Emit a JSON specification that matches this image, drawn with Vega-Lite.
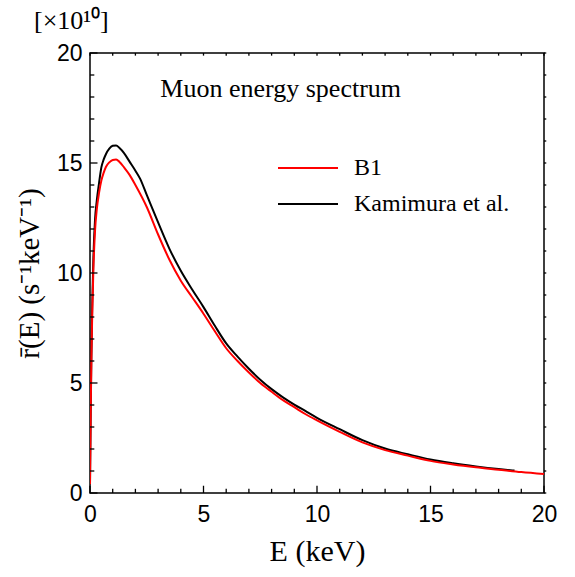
{
  "$schema": "https://vega.github.io/schema/vega-lite/v6.json",
  "autosize": {"type": "none"},
  "width": 454,
  "height": 440,
  "padding": {"left": 90, "top": 53, "right": 31, "bottom": 84},
  "background": "white",
  "title": {"text": "[×10¹⁰]", "anchor": "start", "frame": "group", "dx": -56, "offset": 8, "font": "Liberation Serif", "fontSize": 26, "fontWeight": "normal", "color": "black"},
  "config": {
    "view": {"stroke": "black", "strokeWidth": 1.5},
    "scale": {"continuousPadding": 0},
    "axis": {"domain": false, "ticks": false, "tickSize": 0, "grid": false, "labelFont": "Liberation Sans", "labelFontSize": 23, "labelColor": "black", "titleFont": "Liberation Serif", "titleFontWeight": "normal", "titleColor": "black", "titleFontSize": 30}
  },
  "datasets": {
    "curves": [
      {"E": 0.0, "r": 0.4, "s": "Kamimura et al."},
      {"E": 0.03, "r": 3.6, "s": "Kamimura et al."},
      {"E": 0.06, "r": 6.2, "s": "Kamimura et al."},
      {"E": 0.1, "r": 8.6, "s": "Kamimura et al."},
      {"E": 0.15, "r": 10.7, "s": "Kamimura et al."},
      {"E": 0.22, "r": 12.4, "s": "Kamimura et al."},
      {"E": 0.3, "r": 13.3, "s": "Kamimura et al."},
      {"E": 0.4, "r": 14.1, "s": "Kamimura et al."},
      {"E": 0.5, "r": 14.8, "s": "Kamimura et al."},
      {"E": 0.6, "r": 15.15, "s": "Kamimura et al."},
      {"E": 0.7, "r": 15.4, "s": "Kamimura et al."},
      {"E": 0.85, "r": 15.65, "s": "Kamimura et al."},
      {"E": 1.0, "r": 15.78, "s": "Kamimura et al."},
      {"E": 1.15, "r": 15.8, "s": "Kamimura et al."},
      {"E": 1.3, "r": 15.68, "s": "Kamimura et al."},
      {"E": 1.5, "r": 15.45, "s": "Kamimura et al."},
      {"E": 1.75, "r": 15.05, "s": "Kamimura et al."},
      {"E": 2.0, "r": 14.65, "s": "Kamimura et al."},
      {"E": 2.2, "r": 14.3, "s": "Kamimura et al."},
      {"E": 2.5, "r": 13.55, "s": "Kamimura et al."},
      {"E": 3.0, "r": 12.3, "s": "Kamimura et al."},
      {"E": 3.5, "r": 11.1, "s": "Kamimura et al."},
      {"E": 4.0, "r": 10.1, "s": "Kamimura et al."},
      {"E": 4.5, "r": 9.25, "s": "Kamimura et al."},
      {"E": 5.0, "r": 8.45, "s": "Kamimura et al."},
      {"E": 5.5, "r": 7.6, "s": "Kamimura et al."},
      {"E": 6.0, "r": 6.8, "s": "Kamimura et al."},
      {"E": 6.5, "r": 6.2, "s": "Kamimura et al."},
      {"E": 7.0, "r": 5.65, "s": "Kamimura et al."},
      {"E": 7.5, "r": 5.15, "s": "Kamimura et al."},
      {"E": 8.0, "r": 4.72, "s": "Kamimura et al."},
      {"E": 8.5, "r": 4.35, "s": "Kamimura et al."},
      {"E": 9.0, "r": 4.02, "s": "Kamimura et al."},
      {"E": 9.5, "r": 3.72, "s": "Kamimura et al."},
      {"E": 10.0, "r": 3.42, "s": "Kamimura et al."},
      {"E": 11.0, "r": 2.9, "s": "Kamimura et al."},
      {"E": 12.0, "r": 2.4, "s": "Kamimura et al."},
      {"E": 13.0, "r": 2.02, "s": "Kamimura et al."},
      {"E": 14.0, "r": 1.76, "s": "Kamimura et al."},
      {"E": 15.0, "r": 1.52, "s": "Kamimura et al."},
      {"E": 16.0, "r": 1.35, "s": "Kamimura et al."},
      {"E": 17.0, "r": 1.21, "s": "Kamimura et al."},
      {"E": 18.0, "r": 1.09, "s": "Kamimura et al."},
      {"E": 18.7, "r": 1.02, "s": "Kamimura et al."},
      {"E": 0.0, "r": 0.4, "s": "B1"},
      {"E": 0.03, "r": 3.5, "s": "B1"},
      {"E": 0.06, "r": 6.0, "s": "B1"},
      {"E": 0.1, "r": 8.2, "s": "B1"},
      {"E": 0.15, "r": 10.2, "s": "B1"},
      {"E": 0.22, "r": 11.9, "s": "B1"},
      {"E": 0.3, "r": 12.9, "s": "B1"},
      {"E": 0.4, "r": 13.65, "s": "B1"},
      {"E": 0.5, "r": 14.2, "s": "B1"},
      {"E": 0.6, "r": 14.55, "s": "B1"},
      {"E": 0.7, "r": 14.82, "s": "B1"},
      {"E": 0.85, "r": 15.03, "s": "B1"},
      {"E": 1.0, "r": 15.14, "s": "B1"},
      {"E": 1.15, "r": 15.16, "s": "B1"},
      {"E": 1.3, "r": 15.05, "s": "B1"},
      {"E": 1.5, "r": 14.8, "s": "B1"},
      {"E": 1.75, "r": 14.45, "s": "B1"},
      {"E": 2.0, "r": 14.0, "s": "B1"},
      {"E": 2.5, "r": 13.0, "s": "B1"},
      {"E": 3.0, "r": 11.75, "s": "B1"},
      {"E": 3.5, "r": 10.6, "s": "B1"},
      {"E": 4.0, "r": 9.65, "s": "B1"},
      {"E": 4.5, "r": 8.9, "s": "B1"},
      {"E": 5.0, "r": 8.15, "s": "B1"},
      {"E": 5.5, "r": 7.35, "s": "B1"},
      {"E": 6.0, "r": 6.58, "s": "B1"},
      {"E": 6.5, "r": 6.0, "s": "B1"},
      {"E": 7.0, "r": 5.48, "s": "B1"},
      {"E": 7.5, "r": 5.0, "s": "B1"},
      {"E": 8.0, "r": 4.6, "s": "B1"},
      {"E": 8.5, "r": 4.22, "s": "B1"},
      {"E": 9.0, "r": 3.9, "s": "B1"},
      {"E": 9.5, "r": 3.58, "s": "B1"},
      {"E": 10.0, "r": 3.3, "s": "B1"},
      {"E": 11.0, "r": 2.78, "s": "B1"},
      {"E": 12.0, "r": 2.3, "s": "B1"},
      {"E": 13.0, "r": 1.95, "s": "B1"},
      {"E": 14.0, "r": 1.7, "s": "B1"},
      {"E": 15.0, "r": 1.46, "s": "B1"},
      {"E": 16.0, "r": 1.3, "s": "B1"},
      {"E": 17.0, "r": 1.17, "s": "B1"},
      {"E": 18.0, "r": 1.06, "s": "B1"},
      {"E": 19.0, "r": 0.95, "s": "B1"},
      {"E": 20.0, "r": 0.86, "s": "B1"}
    ],
    "ticks": [
      {"v": 0, "major": true}, {"v": 1, "major": false}, {"v": 2, "major": false}, {"v": 3, "major": false}, {"v": 4, "major": false},
      {"v": 5, "major": true}, {"v": 6, "major": false}, {"v": 7, "major": false}, {"v": 8, "major": false}, {"v": 9, "major": false},
      {"v": 10, "major": true}, {"v": 11, "major": false}, {"v": 12, "major": false}, {"v": 13, "major": false}, {"v": 14, "major": false},
      {"v": 15, "major": true}, {"v": 16, "major": false}, {"v": 17, "major": false}, {"v": 18, "major": false}, {"v": 19, "major": false},
      {"v": 20, "major": true}
    ]
  },
  "layer": [
    {
      "data": {"name": "curves"},
      "transform": [{"filter": "datum.s === 'Kamimura et al.'"}],
      "mark": {"type": "line", "interpolate": "monotone", "strokeWidth": 2, "clip": true},
      "encoding": {
        "x": {"field": "E", "type": "quantitative", "scale": {"domain": [0, 20], "nice": false, "padding": 0},
          "axis": {"orient": "bottom", "title": "E (keV)", "values": [0, 5, 10, 15, 20],
            "labelFlush": false, "labelPadding": 10, "titlePadding": 10}},
        "y": {"field": "r", "type": "quantitative", "scale": {"domain": [0, 20], "nice": false, "padding": 0},
          "axis": {"orient": "left", "title": "r̄(E) (s⁻¹keV⁻¹)", "titleFontSize": 29, "values": [0, 5, 10, 15, 20],
            "labelFlush": false, "labelPadding": 8, "titlePadding": 12, "titleY": 220}},
        "color": {"field": "s", "type": "nominal", "scale": {"domain": ["B1", "Kamimura et al."], "range": ["#ff0000", "#000000"]},
          "legend": {"orient": "none", "legendX": 205, "legendY": 102, "title": null, "symbolType": "M-2.5,0H2.5", "symbolSize": 576, "symbolStrokeWidth": 2, "symbolFillColor": "transparent", "labelFont": "Liberation Serif", "labelFontSize": 24, "labelColor": "black", "labelOffset": 33, "rowPadding": 11, "padding": 0}}
      }
    },
    {
      "data": {"name": "curves"},
      "transform": [{"filter": "datum.s === 'B1'"}],
      "mark": {"type": "line", "interpolate": "monotone", "strokeWidth": 2, "clip": true},
      "encoding": {
        "x": {"field": "E", "type": "quantitative"},
        "y": {"field": "r", "type": "quantitative"},
        "color": {"field": "s", "type": "nominal"}
      }
    },
    {
      "data": {"name": "ticks"},
      "transform": [{"filter": "datum.major"}],
      "mark": {"type": "bar", "color": "black", "width": 1.3},
      "encoding": {"x": {"field": "v", "type": "quantitative"}, "y": {"datum": 0, "type": "quantitative"}, "y2": {"datum": 0.33}}
    },
    {
      "data": {"name": "ticks"},
      "transform": [{"filter": "!datum.major"}],
      "mark": {"type": "bar", "color": "black", "width": 1.3},
      "encoding": {"x": {"field": "v", "type": "quantitative"}, "y": {"datum": 0, "type": "quantitative"}, "y2": {"datum": 0.19}}
    },
    {
      "data": {"name": "ticks"},
      "mark": {"type": "bar", "color": "black", "width": 1.3},
      "encoding": {"x": {"field": "v", "type": "quantitative"}, "y": {"datum": 20, "type": "quantitative"}, "y2": {"datum": 19.88}}
    },
    {
      "data": {"name": "ticks"},
      "transform": [{"filter": "datum.major"}],
      "mark": {"type": "bar", "color": "black", "height": 1.3},
      "encoding": {"y": {"field": "v", "type": "quantitative"}, "x": {"datum": 0, "type": "quantitative"}, "x2": {"datum": 0.33}}
    },
    {
      "data": {"name": "ticks"},
      "transform": [{"filter": "!datum.major"}],
      "mark": {"type": "bar", "color": "black", "height": 1.3},
      "encoding": {"y": {"field": "v", "type": "quantitative"}, "x": {"datum": 0, "type": "quantitative"}, "x2": {"datum": 0.19}}
    },
    {
      "data": {"name": "ticks"},
      "mark": {"type": "bar", "color": "black", "height": 1.3},
      "encoding": {"y": {"field": "v", "type": "quantitative"}, "x": {"datum": 20, "type": "quantitative"}, "x2": {"datum": 20.1}}
    },
    {
      "data": {"values": [{}]},
      "mark": {"type": "text", "align": "left", "baseline": "middle", "font": "Liberation Serif", "fontSize": 26, "color": "black"},
      "encoding": {
        "x": {"datum": 3.1},
        "y": {"datum": 18.35},
        "text": {"value": "Muon energy spectrum"}
      }
    }
  ]
}
